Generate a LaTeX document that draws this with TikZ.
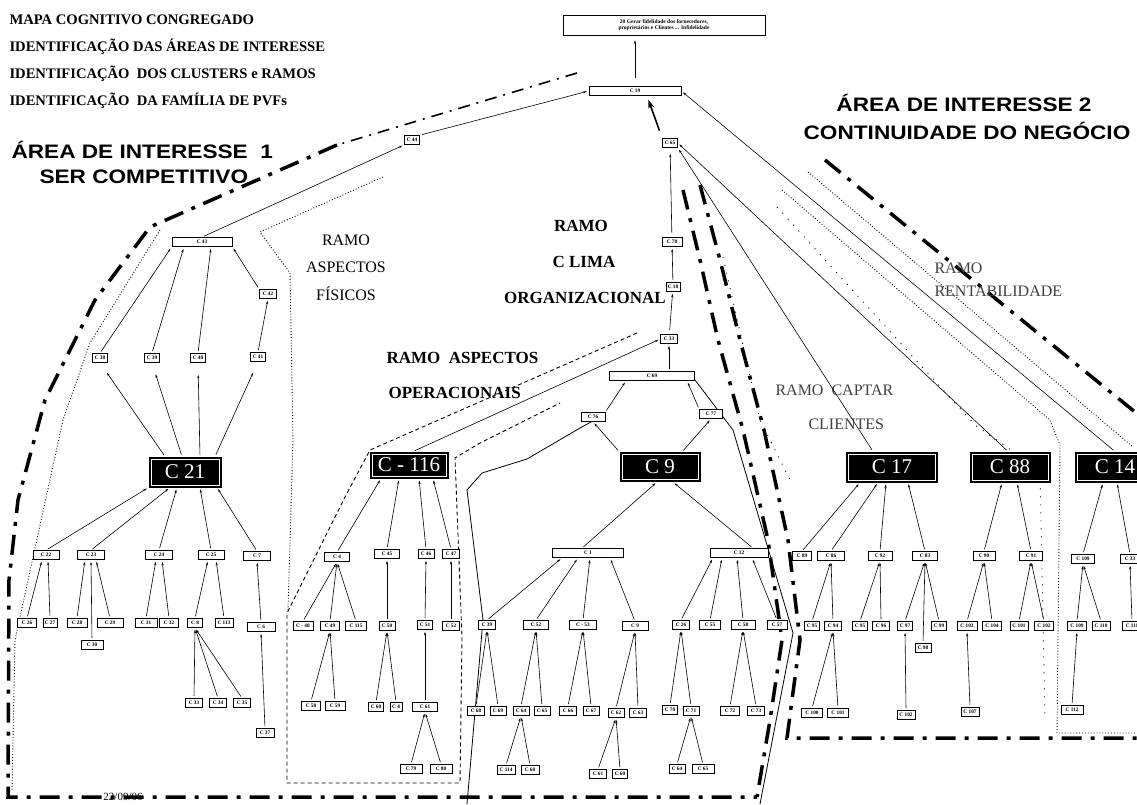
\documentclass[tikz,border=0pt]{standalone}
\usepackage{fontspec}
\setmainfont{Liberation Serif}
\newfontfamily\areafont[FakeStretch=1.16]{Liberation Sans}
\usetikzlibrary{arrows.meta}
\tikzset{
  bx/.style={draw, line width=0.7pt, fill=white, inner sep=0pt, minimum height=9pt,
    font=\fontsize{5.3}{5.5}\selectfont\bfseries},
  big/.style={fill=black, draw=black, line width=1pt, text=white, inner sep=0pt,
    minimum width=78pt, minimum height=28pt, font=\fontsize{21}{21}\selectfont,
    path picture={\draw[white,line width=0.5pt]
      ([shift={(2pt,-2pt)}]path picture bounding box.north west) rectangle
      ([shift={(-2pt,2pt)}]path picture bounding box.south east);}},
  ed/.style={line width=0.6pt, -{Stealth[length=3.5pt,width=2.2pt]}, shorten >=2pt, shorten <=2pt},
  area/.style={line width=3.5pt, dash pattern=on 20pt off 9pt on 4pt off 9pt},
  areathin/.style={line width=1.6pt, dash pattern=on 12pt off 7pt on 2pt off 7pt},
  ramo/.style={line width=0.9pt, dotted},
  sparse/.style={line width=0.9pt, dash pattern=on 1pt off 7pt},
  opdash/.style={line width=0.9pt, dash pattern=on 4pt off 3pt},
  solidb/.style={line width=0.8pt},
  head/.style={anchor=west, font=\fontsize{14.6}{14.6}\selectfont\bfseries},
  areatxt/.style={font=\areafont\fontsize{19.5}{19.5}\selectfont\bfseries},
  ramotxt/.style={font=\fontsize{16}{16}\selectfont},
  ramobold/.style={font=\fontsize{17}{17}\selectfont\bfseries},
}
\newcommand{\cbox}[5]{\node[bx, minimum width=#4pt] (#1) at (#2,#3) {#5};}
\begin{document}
\begin{tikzpicture}[x=1pt,y=-1pt]
\useasboundingbox (0,0) rectangle (1137,804);
\clip (0,0) rectangle (1137,804);

% ---------- headings ----------
\node[head] (h1) at (6,20) {MAPA COGNITIVO CONGREGADO};
\node[head] (h2) at (6,47) {IDENTIFICAÇÃO DAS ÁREAS DE INTERESSE};
\node[head] (h3) at (6,74) {IDENTIFICAÇÃO \ DOS CLUSTERS e RAMOS};
\node[head] (h4) at (6,101) {IDENTIFICAÇÃO \ DA FAMÍLIA DE PVFs};

\node[areatxt, anchor=west] (a1a) at (8,150) {ÁREA DE INTERESSE \ 1};
\node[areatxt, anchor=west] (a1b) at (36,177) {SER COMPETITIVO};
\node[areatxt] (a2a) at (964,103) {ÁREA DE INTERESSE 2};
\node[areatxt] (a2b) at (967,131) {CONTINUIDADE DO NEGÓCIO};

% ---------- area and branch boundaries ----------
\draw[areathin] (577,73) -- (337,145);
\draw[area] (337,145) -- (150,227) -- (95,300) -- (45,400) -- (18,500) -- (9,580) -- (8,797) -- (757,797);
\draw[area] (683,190) -- (700,260) -- (718,340) -- (743,430) -- (768,540) -- (782,640) -- (770,720) -- (757,797);
\draw[area] (700,185) -- (720,260) -- (740,340) -- (764,430) -- (788,540) -- (800,640) -- (792,700) -- (787,738) -- (1140,738);
\draw[area] (825,160) -- (1135,412);

\draw[ramo] (160,230) -- (90,343) -- (63,420) -- (15,640) -- (12,790);
\draw[ramo] (383,177) -- (260,232) -- (290,273) -- (293,440) -- (288,610);
\draw[opdash] (637,333) -- (370,450) -- (345,497) -- (287,613) -- (287,783) -- (460,783) -- (462,637) -- (455,458) -- (480,443) -- (560,403);
\draw[solidb] (600,417) -- (580,428) -- (527,459) -- (482,473) -- (467,490) -- (483,620) -- (467,804);
\draw[solidb] (695,380) -- (733,430) -- (793,633) -- (760,804);

\draw[ramo] (808,172) -- (1133,447);
\draw[ramo] (782,190) -- (1050,420) -- (1060,445) -- (1057,733) -- (1140,733);
\draw[sparse] (777,207) -- (975,425) -- (1040,470) -- (1045,720);
\draw[sparse] (723,257) -- (760,420) -- (790,480);

% ---------- branch names ----------
\node[ramotxt] (rf1) at (346,240) {RAMO};
\node[ramotxt] (rf2) at (346,267) {ASPECTOS};
\node[ramotxt] (rf3) at (346,294) {FÍSICOS};
\node[ramobold] (rc1) at (581,226) {RAMO};
\node[ramobold] (rc2) at (584,262) {C LIMA};
\node[ramobold] (rc3) at (585,298) {ORGANIZACIONAL};
\node[ramobold, anchor=west] (ro1) at (383,358) {RAMO \ ASPECTOS};
\node[ramobold, anchor=west] (ro2) at (385,393) {OPERACIONAIS};
\node[ramotxt, text=black!75, anchor=west] (rk1) at (772,390) {RAMO \ CAPTAR};
\node[ramotxt, text=black!75, anchor=west] (rk2) at (805,424) {CLIENTES};
\node[ramotxt, text=black!75, anchor=west] (rr1) at (931,268) {RAMO};
\node[ramotxt, text=black!75, anchor=west] (rr2) at (931,291) {RENTABILIDADE};

% ---------- upper nodes ----------
\node[bx, minimum width=202pt, minimum height=20pt, align=center, font=\fontsize{5.5}{6}\selectfont\bfseries] (top) at (664,25)
  {20 Gerar fidelidade dos fornecedores,\\ proprietários e Clientes ... Infidelidade};
\cbox{c19}{635}{91}{92}{C 19}
\cbox{c44}{412}{140}{15}{C 44}
\cbox{c43}{202}{242}{60}{C 43}
\cbox{c42}{268}{294}{17}{C 42}
\cbox{c38}{100}{358}{15}{C 38}
\cbox{c39}{152}{358}{15}{C 39}
\cbox{c40}{198}{358}{15}{C 40}
\cbox{c41}{258}{357}{15}{C 41}
\cbox{c65}{670}{143}{15}{C 65}
\cbox{c78}{672}{242}{20}{C 78}
\cbox{c18}{673}{287}{14}{C 18}
\cbox{c33b}{669}{339}{17}{C 33}
\cbox{c69}{652}{376}{85}{C 69}
\cbox{c76}{593}{417}{24}{C 76}
\cbox{c77}{711}{414}{23}{C 77}

% ---------- cluster heads ----------
\node[big, minimum width=72pt, minimum height=30pt] (c21) at (185,472) {C 21};
\node[big, minimum width=78pt, minimum height=26pt] (c116) at (409,465) {C - 116};
\node[big, minimum width=80pt, minimum height=29pt] (c9) at (660,467) {C 9};
\node[big, minimum width=91pt, minimum height=30pt] (c17) at (892,467) {C 17};
\node[big, minimum width=80pt, minimum height=30pt] (c88) at (1010,467) {C 88};
\node[big, minimum width=80pt, minimum height=30pt] (c14) at (1115,467) {C 14};

% ---------- cluster C 21 ----------
\cbox{c22}{46}{555}{26}{C 22}
\cbox{c23}{91}{555}{27}{C 23}
\cbox{c24}{159}{555}{27}{C 24}
\cbox{c25}{211}{555}{26}{C 25}
\cbox{c7}{257}{556}{27}{C 7}
\cbox{c26}{27}{623}{19}{C 26}
\cbox{c27}{50}{623}{14}{C 27}
\cbox{c28}{77}{623}{20}{C 28}
\cbox{c29}{110}{623}{26}{C 29}
\cbox{c30}{92}{645}{22}{C 30}
\cbox{c31}{146}{623}{22}{C 31}
\cbox{c32}{169}{623}{19}{C 32}
\cbox{c8}{195}{623}{15}{C 8}
\cbox{c113}{224}{623}{18}{C 113}
\cbox{c6}{261}{627}{28}{C 6}
\cbox{c33}{194}{703}{17}{C 33}
\cbox{c34}{218}{703}{17}{C 34}
\cbox{c35}{242}{703}{17}{C 35}
\cbox{c37}{265}{733}{18}{C 37}

% ---------- cluster C - 116 ----------
\cbox{c4}{337}{557}{25}{C 4}
\cbox{c45}{387}{554}{25}{C 45}
\cbox{c46}{426}{554}{16}{C 46}
\cbox{c47}{451}{554}{17}{C 47}
\cbox{c48}{303}{626}{20}{C - 48}
\cbox{c49}{330}{626}{19}{C 49}
\cbox{c115}{356}{626}{21}{C 115}
\cbox{c50}{387}{626}{16}{C 50}
\cbox{c51}{425}{625}{15}{C 51}
\cbox{c52}{451}{626}{17}{C 52}
\cbox{c58}{311}{706}{19}{C 58}
\cbox{c59}{335}{706}{20}{C 59}
\cbox{c60}{376}{707}{15}{C 60}
\cbox{c61}{396}{707}{12}{C 4}
\cbox{c62}{425}{707}{25}{C 61}
\cbox{c79}{411}{769}{22}{C 79}
\cbox{c80}{441}{769}{22}{C 80}

% ---------- cluster C 9 ----------
\cbox{c1}{588}{553}{71}{C 1}
\cbox{c12}{739}{553}{58}{C 12}
\cbox{c39b}{487}{625}{17}{C 39}
\cbox{c52b}{536}{625}{25}{C 52}
\cbox{c53}{583}{625}{27}{C - 53}
\cbox{c54}{635}{626}{26}{C 9}
\cbox{c56}{681}{625}{17}{C 26}
\cbox{c55}{710}{625}{21}{C 55}
\cbox{c58b}{743}{625}{24}{C 58}
\cbox{c57}{777}{625}{20}{C 57}
\cbox{c68}{476}{711}{17}{C 68}
\cbox{c69b}{498}{711}{16}{C 69}
\cbox{c64}{521}{711}{16}{C 64}
\cbox{c65b}{542}{711}{16}{C 65}
\cbox{c66}{568}{711}{17}{C 66}
\cbox{c67}{591}{711}{16}{C 67}
\cbox{c62b}{616}{713}{16}{C 62}
\cbox{c63}{638}{713}{17}{C 63}
\cbox{c70}{670}{710}{15}{C 70}
\cbox{c71}{691}{711}{16}{C 71}
\cbox{c72}{730}{711}{19}{C 72}
\cbox{c73}{756}{711}{17}{C 73}
\cbox{c114}{506}{770}{18}{C 114}
\cbox{c68b}{530}{770}{18}{C 68}
\cbox{c61b}{598}{774}{17}{C 61}
\cbox{c60b}{620}{774}{15}{C 60}
\cbox{c64b}{677}{769}{16}{C 64}
\cbox{c65c}{703}{769}{22}{C 65}

% ---------- clusters C 17, C 88, C 14 ----------
\cbox{c89}{802}{556}{19}{C 89}
\cbox{c86}{831}{556}{27}{C 86}
\cbox{c92}{880}{556}{24}{C 92}
\cbox{c83}{925}{556}{25}{C 83}
\cbox{c90}{984}{556}{22}{C 90}
\cbox{c91}{1031}{556}{23}{C 91}
\cbox{c109}{1083}{559}{23}{C 109}
\cbox{c33c}{1130}{559}{20}{C 33}
\cbox{c95}{812}{626}{15}{C 95}
\cbox{c94}{833}{626}{17}{C 94}
\cbox{c95b}{860}{626}{15}{C 95}
\cbox{c96}{881}{626}{17}{C 96}
\cbox{c97}{905}{626}{15}{C 97}
\cbox{c99}{939}{626}{15}{C 99}
\cbox{c103}{967}{626}{20}{C 103}
\cbox{c104}{992}{626}{19}{C 104}
\cbox{c101}{1019}{626}{18}{C 101}
\cbox{c102}{1044}{626}{19}{C 102}
\cbox{c109b}{1077}{626}{19}{C 109}
\cbox{c110}{1101}{626}{18}{C 110}
\cbox{c111}{1132}{626}{20}{C 111}
\cbox{c98}{923}{648}{16}{C 98}
\cbox{c100}{812}{713}{21}{C 100}
\cbox{c101b}{838}{713}{21}{C 101}
\cbox{c102b}{906}{715}{18}{C 102}
\cbox{c107}{970}{712}{18}{C 107}
\cbox{c112}{1072}{710}{22}{C 112}

% ---------- links: top ----------
\draw[ed, shorten >=5pt, shorten <=8pt] (c19.north) -- (c19.north |- top.south);
\draw[ed] (c44.north east) -- (c19.west);
\draw[ed] (c43.north) -- (c44.south west);
\draw[line width=1.6pt, -{Stealth[length=9pt,width=6pt]}, shorten <=8pt, shorten >=4pt] (c65.north west) -- ([xshift=12pt]c19.south);
\draw[ed] (c14.north) -- (c19.east);
\draw[ed] ([xshift=-19pt]c17.north) -- (c65.south east);
\draw[ed] ([xshift=-2pt]c88.north) -- (c65.east);
\draw[ed, shorten <=4pt, shorten >=6pt] (c78) -- (c65);
\draw[ed] (c18) -- (c78);
\draw[ed, shorten <=4pt] (c33b) -- (c18);
\draw[ed] (c69.north -| c33b) -- (c33b.south);
\draw[ed] (c76.north east) -- ([xshift=-26pt]c69.south);
\draw[ed] (c77.north west) -- ([xshift=35pt]c69.south);
\draw[ed] (c9.north west) -- (c76.south);
\draw[ed] ([xshift=22pt]c9.north) -- (c77.south);
\draw[ed] ([xshift=4pt]c116.north) -- (c33b.west);

% ---------- links: cluster C 21 ----------
\draw[ed] (c38.north) -- (c43.south west);
\draw[ed] (c39.north) -- ([xshift=-18pt]c43.south);
\draw[ed] (c40.north) -- ([xshift=9pt]c43.south);
\draw[ed] (c42.north west) -- (c43.south east);
\draw[ed] (c41.north) -- (c42.south);
\draw[ed, shorten >=12pt] ([xshift=-20pt]c21.north) -- (c38.south);
\draw[ed, shorten >=12pt] ([xshift=-3pt]c21.north) -- (c39.south);
\draw[ed, shorten >=12pt] ([xshift=15pt]c21.north) -- (c40.south);
\draw[ed, shorten >=12pt] ([xshift=30pt]c21.north) -- (c41.south);
\draw[ed] (c22.north) -- (c21.south west);
\draw[ed] (c23.north) -- ([xshift=-15pt]c21.south);
\draw[ed] (c24.north) -- ([xshift=-8pt]c21.south);
\draw[ed] (c25.north) -- ([xshift=15pt]c21.south);
\draw[ed] (c7.north) -- ([xshift=32pt]c21.south);
\draw[ed] (c26.north) -- ([xshift=-4pt]c22.south);
\draw[ed] (c27.north) -- ([xshift=2pt]c22.south);
\draw[ed] (c28.north) -- ([xshift=-6pt]c23.south);
\draw[ed] (c30.north) -- (c23.south);
\draw[ed] (c29.north) -- ([xshift=5pt]c23.south);
\draw[ed] (c31.north) -- ([xshift=-3pt]c24.south);
\draw[ed] (c32.north) -- ([xshift=3pt]c24.south);
\draw[ed] (c8.north) -- ([xshift=-3pt]c25.south);
\draw[ed] (c113.north) -- ([xshift=5pt]c25.south);
\draw[ed] (c6.north) -- (c7.south);
\draw[ed] (c33.north) -- (c8.south);
\draw[ed] (c34.north) -- (c8.south);
\draw[ed] (c35.north) -- (c8.south);
\draw[ed] (c37.north) -- (c6.south);

% ---------- links: cluster C - 116 ----------
\draw[ed] (c4.north) -- ([xshift=-28pt]c116.south);
\draw[ed] (c45.north) -- ([xshift=-10pt]c116.south);
\draw[ed] (c46.north) -- ([xshift=10pt]c116.south);
\draw[ed] (c47.north) -- ([xshift=24pt]c116.south);
\draw[ed] (c48.north) -- (c4.south);
\draw[ed] (c49.north) -- (c4.south);
\draw[ed] (c115.north) -- (c4.south);
\draw[ed] (c50.north) -- (c45.south);
\draw[ed] (c51.north) -- (c46.south);
\draw[ed] (c52.north) -- (c47.south);
\draw[ed] (c58.north) -- (c49.south);
\draw[ed] (c59.north) -- (c49.south);
\draw[ed] (c60.north) -- (c50.south);
\draw[ed] (c61.north) -- (c50.south);
\draw[ed] (c62.north) -- (c51.south);
\draw[ed] (c79.north) -- (c62.south);
\draw[ed] (c80.north) -- (c62.south);

% ---------- links: cluster C 9 ----------
\draw[ed] ([xshift=-6pt]c1.north) -- ([xshift=-3pt]c9.south);
\draw[ed] ([xshift=14pt]c12.north) -- ([xshift=13pt]c9.south);
\draw[ed] (c39b.north) -- ([xshift=-26pt]c1.south);
\draw[ed] (c52b.north) -- ([xshift=-10pt]c1.south);
\draw[ed] (c53.north) -- ([xshift=2pt]c1.south);
\draw[ed] (c54.north) -- ([xshift=22pt]c1.south);
\draw[ed] (c56.north) -- ([xshift=-26pt]c12.south);
\draw[ed] (c55.north) -- ([xshift=-17pt]c12.south);
\draw[ed] (c58b.north) -- ([xshift=-2pt]c12.south);
\draw[ed] (c57.north) -- ([xshift=13pt]c12.south);
\draw[ed] (c68.north) -- (c39b.south);
\draw[ed] (c69b.north) -- (c39b.south);
\draw[ed] (c64.north) -- (c52b.south);
\draw[ed] (c65b.north) -- (c52b.south);
\draw[ed] (c66.north) -- (c53.south);
\draw[ed] (c67.north) -- (c53.south);
\draw[ed] (c62b.north) -- (c54.south);
\draw[ed] (c63.north) -- (c54.south);
\draw[ed] (c70.north) -- (c56.south);
\draw[ed] (c71.north) -- (c56.south);
\draw[ed] (c72.north) -- (c58b.south);
\draw[ed] (c73.north) -- (c58b.south);
\draw[ed] (c114.north) -- (c64.south);
\draw[ed] (c68b.north) -- (c64.south);
\draw[ed] (c61b.north) -- (c62b.south);
\draw[ed] (c60b.north) -- (c62b.south);
\draw[ed] (c64b.north) -- (c71.south);
\draw[ed] (c65c.north) -- (c71.south);

% ---------- links: clusters C 17, C 88, C 14 ----------
\draw[ed] (c89.north) -- ([xshift=-32pt]c17.south);
\draw[ed] (c86.north) -- ([xshift=-14pt]c17.south);
\draw[ed] (c92.north) -- ([xshift=-6pt]c17.south);
\draw[ed] (c83.north) -- ([xshift=16pt]c17.south);
\draw[ed] (c90.north) -- ([xshift=-8pt]c88.south);
\draw[ed] (c91.north) -- ([xshift=7pt]c88.south);
\draw[ed] (c109.north) -- ([xshift=-12pt]c14.south);
\draw[ed] (c33c.north) -- ([xshift=2pt]c14.south);
\draw[ed] (c95.north) -- (c86.south);
\draw[ed] (c94.north) -- (c86.south);
\draw[ed] (c95b.north) -- (c92.south);
\draw[ed] (c96.north) -- (c92.south);
\draw[ed] (c97.north) -- (c83.south);
\draw[ed] (c98.north) -- (c83.south);
\draw[ed] (c99.north) -- (c83.south);
\draw[ed] (c103.north) -- (c90.south);
\draw[ed] (c104.north) -- (c90.south);
\draw[ed] (c101.north) -- (c91.south);
\draw[ed] (c102.north) -- (c91.south);
\draw[ed] (c109b.north) -- (c109.south);
\draw[ed] (c110.north) -- (c109.south);
\draw[ed] (c111.north) -- (c33c.south);
\draw[ed] (c100.north) -- (c94.south);
\draw[ed] (c101b.north) -- (c94.south);
\draw[ed] (c102b.north) -- (c97.south);
\draw[ed] (c107.north) -- (c103.south);
\draw[ed] (c112.north) -- (c109b.south);

% ---------- date ----------
\node[font=\fontsize{11}{11}\selectfont] (date) at (123,797) {22/09/06};
\end{tikzpicture}
\end{document}
